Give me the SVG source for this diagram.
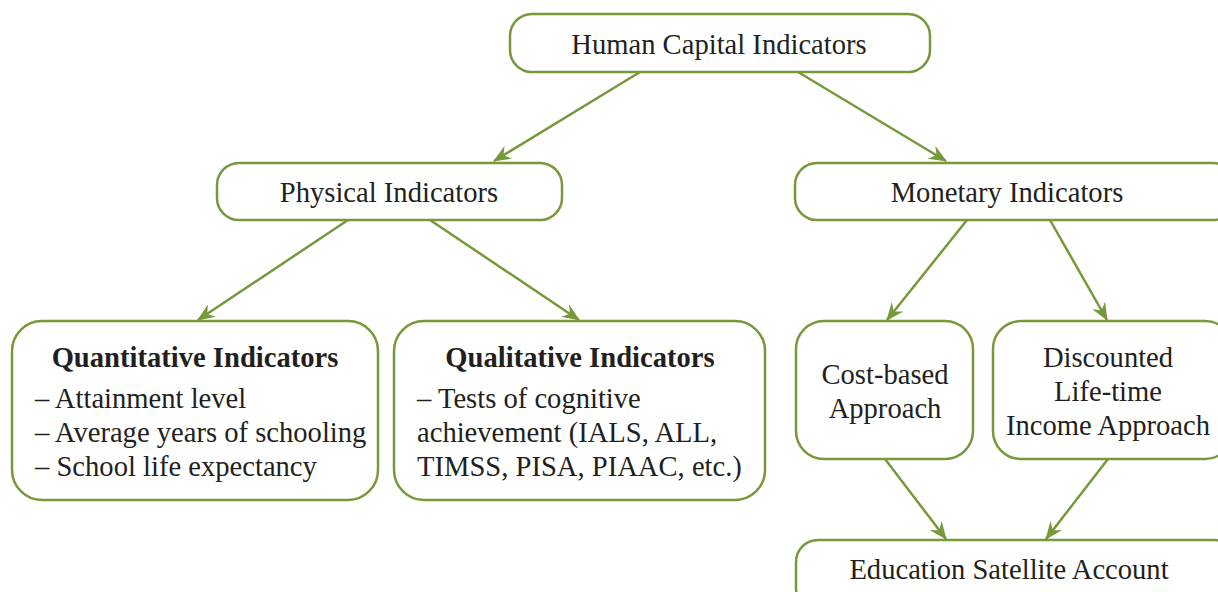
<svg xmlns="http://www.w3.org/2000/svg" width="1218" height="592" viewBox="0 0 1218 592">
<style>
.box{fill:#fff;stroke:#76993a;stroke-width:2.5}
.t{font-family:"Liberation Serif","Times New Roman",serif;font-size:28.6px;fill:#231f20}
.c{text-anchor:middle}
.b{font-weight:bold}
.conn line{stroke:#76993a;stroke-width:2.5;marker-end:url(#ah)}
</style>
<defs>
<marker id="ah" viewBox="0 0 18 15" refX="17" refY="7.5" markerWidth="18" markerHeight="15" markerUnits="userSpaceOnUse" orient="auto">
<path d="M0,0 L18,7.5 L0,15 L6,7.5 Z" fill="#76993a"/>
</marker>
</defs>
<rect width="1218" height="592" fill="#fff"/>
<g class="conn">
<line x1="640" y1="72" x2="494" y2="161"/>
<line x1="798" y1="72" x2="946" y2="161"/>
<line x1="348" y1="220" x2="198" y2="320"/>
<line x1="430" y1="220" x2="579" y2="320"/>
<line x1="967" y1="220" x2="887" y2="320"/>
<line x1="1050" y1="220" x2="1107" y2="320"/>
<line x1="885" y1="459" x2="946" y2="539"/>
<line x1="1108" y1="459" x2="1046" y2="539"/>
</g>
<g id="human">
<rect class="box" x="510" y="14" width="420" height="58" rx="22"/>
<text class="t c" x="719" y="54">Human Capital Indicators</text>
</g>
<g id="physical">
<rect class="box" x="217" y="163" width="345" height="57" rx="22"/>
<text class="t c" x="389" y="202">Physical Indicators</text>
</g>
<g id="monetary">
<rect class="box" x="795" y="163" width="440" height="57" rx="22"/>
<text class="t c" x="1007" y="202">Monetary Indicators</text>
</g>
<g id="quantitative">
<rect class="box" x="12" y="321" width="366" height="179" rx="30"/>
<text class="t c b" x="195" y="367">Quantitative Indicators</text>
<text class="t" x="35" y="408">– Attainment level</text>
<text class="t" x="35" y="442">– Average years of schooling</text>
<text class="t" x="35" y="476">– School life expectancy</text>
</g>
<g id="qualitative">
<rect class="box" x="394" y="321" width="371" height="179" rx="30"/>
<text class="t c b" x="580" y="367">Qualitative Indicators</text>
<text class="t" x="417" y="408">– Tests of cognitive</text>
<text class="t" x="417" y="442">achievement (IALS, ALL,</text>
<text class="t" x="417" y="476">TIMSS, PISA, PIAAC, etc.)</text>
</g>
<g id="cost">
<rect class="box" x="796" y="321" width="177" height="138" rx="28"/>
<text class="t c" x="885" y="384">Cost-based</text>
<text class="t c" x="885" y="418">Approach</text>
</g>
<g id="discounted">
<rect class="box" x="993" y="321" width="240" height="138" rx="28"/>
<text class="t c" x="1108" y="367">Discounted</text>
<text class="t c" x="1108" y="401">Life-time</text>
<text class="t c" x="1108" y="435">Income Approach</text>
</g>
<g id="education">
<rect class="box" x="796" y="540" width="440" height="70" rx="22"/>
<text class="t c" x="1009" y="579">Education Satellite Account</text>
</g>
</svg>
